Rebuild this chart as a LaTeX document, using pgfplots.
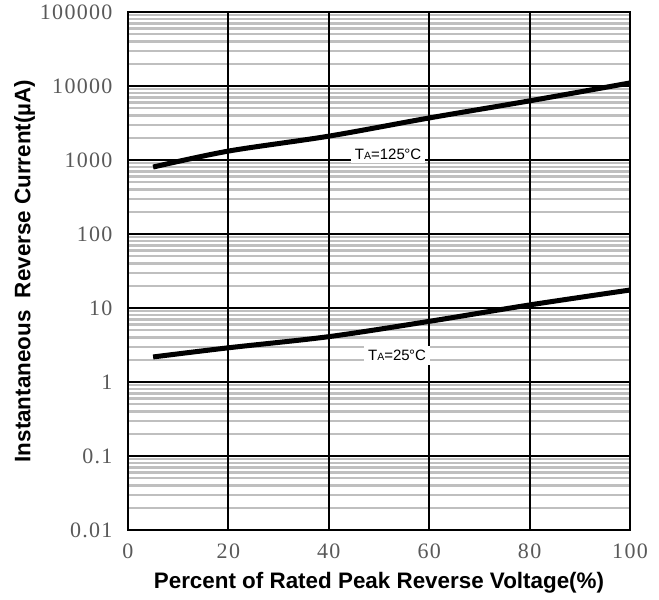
\documentclass[border=0pt]{standalone}
\usepackage{fontspec}
\setmainfont{Liberation Serif}
\newfontfamily\tickfont[LetterSpace=6]{Liberation Serif}
\newfontfamily\arial{Liberation Sans}
\usepackage{pgfplots}
\pgfplotsset{compat=1.18}
\begin{document}
\begin{tikzpicture}[x=1pt,y=1pt]
\begin{axis}[
  at={(0,0)}, anchor=south west,
  scale only axis, width=502pt, height=518pt,
  xmin=0, xmax=100, ymode=log, ymin=0.01, ymax=100000,
  xtick={0,20,40,60,80,100},
  ytick={0.01,0.1,1,10,100,1000,10000,100000},
  yticklabels={0.01,0.1,1,10,100,1000,10000,100000},
  minor ytick={0.02,0.03,0.04,0.05,0.06,0.07,0.08,0.09,
    0.2,0.3,0.4,0.5,0.6,0.7,0.8,0.9,
    2,3,4,5,6,7,8,9,20,30,40,50,60,70,80,90,
    200,300,400,500,600,700,800,900,2000,3000,4000,5000,6000,7000,8000,9000,
    20000,30000,40000,50000,60000,70000,80000,90000},
  ymajorgrids, yminorgrids,
  major grid style={black, line width=2.2pt},
  minor grid style={black!25, line width=2.2pt},
  axis line style={black, line width=2.4pt},
  tick style={draw=none},
  major tick length=0pt, minor tick length=0pt,
  /pgf/number format/assume math mode=true,
  ticklabel style={font=\tickfont\fontsize{22}{22}\selectfont, text=black!65},
  yticklabel style={xshift=-12pt},
  xticklabel style={yshift=-10pt},
  xlabel={\arial\bfseries\fontsize{22.4}{22}\selectfont Percent of Rated Peak Reverse Voltage(\%)},
  ylabel={\arial\bfseries\fontsize{22.4}{22}\selectfont Instantaneous\ \ Reverse Current(\textmu A)},
  xlabel style={yshift=-7pt},
  ylabel style={yshift=-2pt},
]
\foreach \xv in {20,40,60,80} {
  \edef\tmp{\noexpand\draw[black, line width=2.2pt] (axis cs:\xv,0.01) -- (axis cs:\xv,100000);}
  \tmp
}
\addplot[black, line width=5pt, smooth] coordinates {
 (5,803) (20,1320) (40,2100) (60,3700) (80,6300) (100,11000)};
\addplot[black, line width=5pt, smooth] coordinates {
 (5,2.18) (20,2.9) (40,4.1) (60,6.6) (80,11) (100,17.5)};
\node[fill=white, inner sep=4pt, font=\arial\fontsize{15}{15}\selectfont] at (axis cs:51.8,1200) {T{\fontsize{10.5}{10}\selectfont A}=125\kern-0.5pt°C};
\node[fill=white, inner sep=4pt, font=\arial\fontsize{15}{15}\selectfont] at (axis cs:53.6,2.3) {T{\fontsize{10.5}{10}\selectfont A}=25\kern-0.5pt°C};
\end{axis}
\pgfresetboundingbox
\path[use as bounding box] (-128,-70) rectangle (531,530);
\end{tikzpicture}
\end{document}
